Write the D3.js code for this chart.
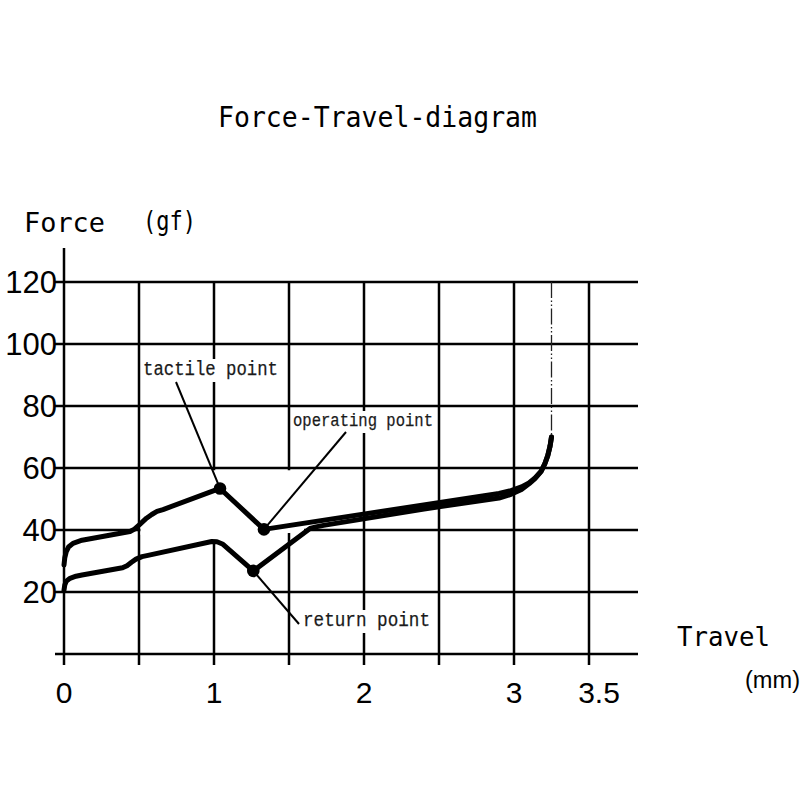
<!DOCTYPE html>
<html><head><meta charset="utf-8">
<script src="https://cdn.jsdelivr.net/npm/d3@7"></script>
<style>body{margin:0;background:#fff}</style>
</head><body>
<svg id="chart" width="800" height="800"></svg>
<script>
// ---------- data ----------
const xTicks = [0, 0.5, 1, 1.5, 2, 2.5, 3, 3.5];
const xTickLabels = ["0", "", "1", "", "2", "", "3", "3.5"];
const yTicks = [20, 40, 60, 80, 100, 120];
const yTickLabels = ["20", "40", "60", "80", "100", "120"];

// press (down-stroke) curve
const pressTravel = [0, 0.005, 0.015, 0.03, 0.06, 0.12, 0.44, 0.47, 0.5, 0.55, 0.585, 0.62, 0.66, 1.04, 1.333, 2.9, 2.98, 3.05, 3.1, 3.14, 3.18, 3.205, 3.225, 3.24, 3.25];
const pressForce  = [28.7, 31, 33, 34.5, 35.7, 36.7, 39.5, 40.3, 41.6, 43.8, 45, 46, 46.6, 53.4, 40.2, 51.8, 52.7, 53.9, 55.2, 56.8, 58.9, 61.3, 64, 67, 70];

// return (up-stroke) curve
const returnTravel = [0, 0.005, 0.015, 0.04, 0.08, 0.12, 0.39, 0.42, 0.45, 0.48, 0.52, 0.56, 0.985, 1.02, 1.06, 1.262, 1.64, 1.68, 1.73, 2.4, 2.9, 2.98, 3.05, 3.1, 3.14, 3.18, 3.205, 3.225, 3.24, 3.25];
const returnForce  = [20.6, 22.2, 23.5, 24.4, 25.1, 25.5, 27.8, 28.5, 29.6, 30.6, 31.4, 31.8, 36.3, 36.2, 35.4, 26.8, 40.5, 41.0, 41.5, 46.8, 50.3, 51.5, 53.1, 54.9, 56.6, 58.8, 61.3, 64, 67, 70];

const pointNames = ["tactile point", "operating point", "return point"];
const pointTravel = [1.04, 1.333, 1.262];
const pointForce  = [53.4, 40.2, 26.8];

const strokeEndTravel = 3.25;
const strokeEndForce = 70;

const titleText = "Force-Travel-diagram";
const yAxisName = ["Force", "(gf)"];
const xAxisName = ["Travel", "(mm)"];

// ---------- drawing ----------
const svg = d3.select("#chart");
const x = d3.scaleLinear().domain([0, 3.5]).range([64, 589]);
const y = d3.scaleLinear().domain([0, 120]).range([654, 282]);

const gridLeft = x(0) - 9, gridRight = x(3.5) + 49, tickLen = 11;
const gw = 2.5;

// horizontal grid lines
svg.append("g").selectAll("line").data(yTicks).join("line")
  .attr("x1", gridLeft).attr("x2", gridRight)
  .attr("y1", d => y(d)).attr("y2", d => y(d))
  .attr("stroke", "#000").attr("stroke-width", gw);

// vertical grid lines (with ticks below axis)
svg.append("g").selectAll("line").data(xTicks.slice(1)).join("line")
  .attr("x1", d => x(d)).attr("x2", d => x(d))
  .attr("y1", y(120)).attr("y2", y(0) + tickLen)
  .attr("stroke", "#000").attr("stroke-width", gw);

// axes
svg.append("line").attr("x1", x(0)).attr("x2", x(0))
  .attr("y1", 248).attr("y2", y(0) + tickLen)
  .attr("stroke", "#000").attr("stroke-width", gw);
svg.append("line").attr("x1", gridLeft).attr("x2", gridRight)
  .attr("y1", y(0)).attr("y2", y(0))
  .attr("stroke", "#000").attr("stroke-width", gw);

// blank patch in the grid (as in original drawing)
const patch = [[0.51, 59.3], [1.6, 59.3], [1.6, 39.3], [1.1, 38], [1.0, 36.8], [0.51, 38.5]];
svg.append("path")
  .attr("d", d3.line().x(d => x(d[0])).y(d => y(d[1]))(patch) + "Z")
  .attr("fill", "#fff");

// tick labels
svg.append("g").selectAll("text").data(yTicks).join("text")
  .attr("x", 57).attr("y", d => y(d)).attr("dy", "0.36em")
  .attr("text-anchor", "end")
  .attr("font-family", "Liberation Sans, Arial, sans-serif").attr("font-size", 31)
  .attr("fill", "#000")
  .text((d, i) => yTickLabels[i]);

svg.append("g").selectAll("text").data(xTicks).join("text")
  .attr("x", (d, i) => x(d) + (i === xTicks.length - 1 ? 10 : 0)).attr("y", 703)
  .attr("text-anchor", "middle")
  .attr("font-family", "Liberation Sans, Arial, sans-serif").attr("font-size", 30)
  .attr("fill", "#000")
  .text((d, i) => xTickLabels[i]);

// dash-dot line at end of stroke
svg.append("line")
  .attr("x1", x(strokeEndTravel)).attr("x2", x(strokeEndTravel))
  .attr("y1", y(120)).attr("y2", y(strokeEndForce))
  .attr("stroke", "#222").attr("stroke-width", 1.3)
  .attr("stroke-dasharray", "16,2.5,1.5,2.5,1.5,2.5");

// annotation labels with white backgrounds
const labelFont = "Liberation Mono, Courier New, monospace";
const labels = [
  {x: 143, y: 375, size: 20.5, len: 135, lx: 176, ly: 382},
  {x: 293, y: 426, size: 19, len: 140, lx: 346, ly: 432},
  {x: 303, y: 626, size: 20.5, len: 127, lx: 299, ly: 624}
];
const lg = svg.append("g");
labels.forEach((L, i) => {
  const t = lg.append("text")
    .attr("x", L.x).attr("y", L.y)
    .attr("font-family", labelFont).attr("font-size", L.size)
    .attr("textLength", L.len).attr("lengthAdjust", "spacingAndGlyphs")
    .attr("fill", "#1a1a1a").attr("stroke", "#1a1a1a").attr("stroke-width", 0.25)
    .text(pointNames[i]);
  const b = t.node().getBBox();
  lg.insert("rect", "text")
    .attr("x", b.x - 1).attr("y", b.y + 1).attr("width", b.width + 2).attr("height", b.height)
    .attr("fill", "#fff");
});

// leader lines
const lead = svg.append("g");
labels.forEach((L, i) => {
  lead.append("line")
    .attr("x1", L.lx).attr("y1", L.ly)
    .attr("x2", x(pointTravel[i])).attr("y2", y(pointForce[i]))
    .attr("stroke", "#000").attr("stroke-width", 2);
});

// curves
const line = d3.line().x(d => x(d[0])).y(d => y(d[1])).curve(d3.curveLinear);
const press = pressTravel.map((t, i) => [t, pressForce[i]]);
const ret = returnTravel.map((t, i) => [t, returnForce[i]]);
[press, ret].forEach(data => {
  svg.append("path").attr("d", line(data))
    .attr("fill", "none").attr("stroke", "#000").attr("stroke-width", 5)
    .attr("stroke-linejoin", "round").attr("stroke-linecap", "round");
});

// points
svg.append("g").selectAll("circle").data(pointTravel).join("circle")
  .attr("cx", d => x(d)).attr("cy", (d, i) => y(pointForce[i])).attr("r", 6.3)
  .attr("fill", "#000");

// titles
const headFont = "DejaVu Sans Mono, monospace";
svg.append("text").attr("x", 218).attr("y", 127)
  .attr("font-family", headFont).attr("font-size", 29)
  .attr("textLength", 319).attr("lengthAdjust", "spacingAndGlyphs")
  .text(titleText);
svg.append("text").attr("x", 24).attr("y", 232)
  .attr("font-family", headFont).attr("font-size", 27)
  .attr("textLength", 81).attr("lengthAdjust", "spacingAndGlyphs")
  .text(yAxisName[0]);
svg.append("text").attr("x", 143).attr("y", 230)
  .attr("font-family", headFont).attr("font-size", 27)
  .attr("textLength", 53).attr("lengthAdjust", "spacingAndGlyphs")
  .text(yAxisName[1]);
svg.append("text").attr("x", 677).attr("y", 646)
  .attr("font-family", headFont).attr("font-size", 27)
  .attr("textLength", 93).attr("lengthAdjust", "spacingAndGlyphs")
  .text(xAxisName[0]);
svg.append("text").attr("x", 745).attr("y", 688)
  .attr("font-family", "Liberation Sans Narrow, Liberation Sans, sans-serif").attr("font-size", 23)
  .attr("textLength", 55).attr("lengthAdjust", "spacingAndGlyphs")
  .text(xAxisName[1]);
</script>
</body></html>
